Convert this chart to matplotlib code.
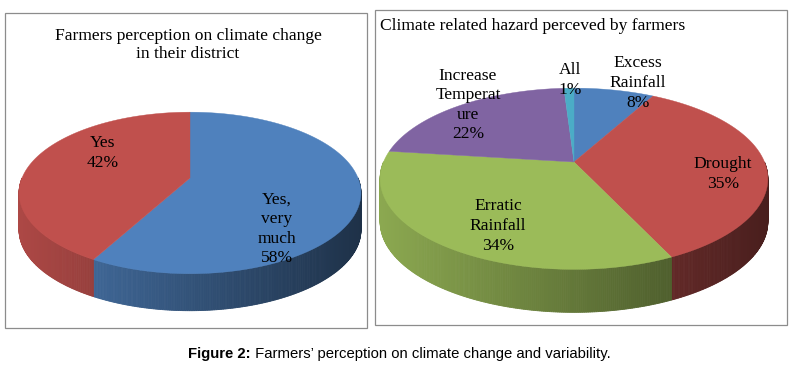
import numpy as np
import matplotlib.pyplot as plt
from matplotlib.patches import Polygon, Rectangle
from matplotlib.colors import to_rgb

# data
perception_labels = ["Yes,\nvery\nmuch", "Yes"]
perception_pct = [58, 42]
hazard_labels = ["Excess\nRainfall", "Drought", "Erratic\nRainfall", "Increase\nTemperat\nure", "All"]
hazard_pct = [8, 35, 34, 22, 1]

perception_colors = ["#4F81BD", "#C0504D"]
hazard_colors = ["#4F81BD", "#C0504D", "#9BBB59", "#8064A2", "#4BACC6"]

# label anchor points (pixel layout)
perception_lab_pos = [(277, 229), (103, 153)]
hazard_lab_pos = [(638, 83), (723, 174), (498, 226), (468, 105), (570, 80)]

serif = "Liberation Serif"
fs = 12.6
lsp = 1.3
persp = 0.185  # far side shrink


def shade(c, f):
    r, g, b = to_rgb(c)
    return (r * f, g * f, b * f)


def pie3d(ax, values, colors, cx, cy, a, b, depth):
    vals = np.asarray(values, float)
    edges = 360 * np.concatenate([[0], np.cumsum(vals) / vals.sum()])  # clockwise from top

    def pt(phi):
        u, v = np.sin(np.radians(phi)), np.cos(np.radians(phi))
        w = 1 + persp * v
        return cx + a * u / w, cy - b * v / w

    left, right = cx - a * 1.02, cx + a * 1.02
    # side wall, darker towards the right
    for i, col in enumerate(colors):
        ph = np.linspace(edges[i], edges[i + 1], max(int((edges[i + 1] - edges[i]) * 2), 2))
        for p0, p1 in zip(ph[:-1], ph[1:]):
            if np.cos(np.radians((p0 + p1) / 2)) >= 0:
                continue
            x0, y0 = pt(p0)
            x1, y1 = pt(p1)
            frac = ((x0 + x1) / 2 - left) / (right - left)
            c = shade(col, 0.9 - 0.52 * frac)
            ax.add_patch(Polygon([(x0, y0), (x1, y1), (x1, y1 + depth), (x0, y0 + depth)],
                                 closed=True, fc=c, ec=c, lw=0.6))
    # top faces
    for i, col in enumerate(colors):
        ph = np.linspace(edges[i], edges[i + 1], max(int((edges[i + 1] - edges[i]) * 2), 3))
        pts = [(cx, cy)] + [pt(p) for p in ph]
        ax.add_patch(Polygon(pts, closed=True, fc=col, ec=col, lw=0.3))


fig = plt.figure(figsize=(8.09, 3.74), dpi=100)
ax = fig.add_axes([0, 0, 1, 1])
ax.set_xlim(0, 809)
ax.set_ylim(374, 0)
ax.axis("off")

# panel frames
ax.add_patch(Rectangle((5, 13), 362, 315, fill=False, ec="#8c8c8c", lw=0.9))
ax.add_patch(Rectangle((375, 10), 412, 315, fill=False, ec="#8c8c8c", lw=0.9))

# left chart
pie3d(ax, perception_pct, perception_colors, 190, 178, 168, 78, 37)
ax.text(188, 45, "Farmers perception on climate change\nin their district", ha="center", va="center",
        family=serif, fontsize=fs, linespacing=1.2)
for lab, v, (x, y) in zip(perception_labels, perception_pct, perception_lab_pos):
    ax.text(x, y, f"{lab}\n{v}%", ha="center", va="center", family=serif, fontsize=fs, linespacing=lsp)

# right chart
pie3d(ax, hazard_pct, hazard_colors, 574, 162, 190.5, 87.5, 43)
ax.text(380, 26, "Climate related hazard perceved by farmers", ha="left", va="center",
        family=serif, fontsize=fs)
for lab, v, (x, y) in zip(hazard_labels, hazard_pct, hazard_lab_pos):
    ax.text(x, y, f"{lab}\n{v}%", ha="center", va="center", family=serif, fontsize=fs, linespacing=lsp)

# caption
t = ax.text(188, 361, "Figure 2:", ha="left", va="bottom", family="Liberation Sans",
            fontsize=10.7, fontweight="bold")
ax.annotate(" Farmers\u2019 perception on climate change and variability.", xy=(1, 0), xycoords=t,
            ha="left", va="bottom", family="Liberation Sans", fontsize=10.7)

fig.savefig("out.png", dpi=100)
